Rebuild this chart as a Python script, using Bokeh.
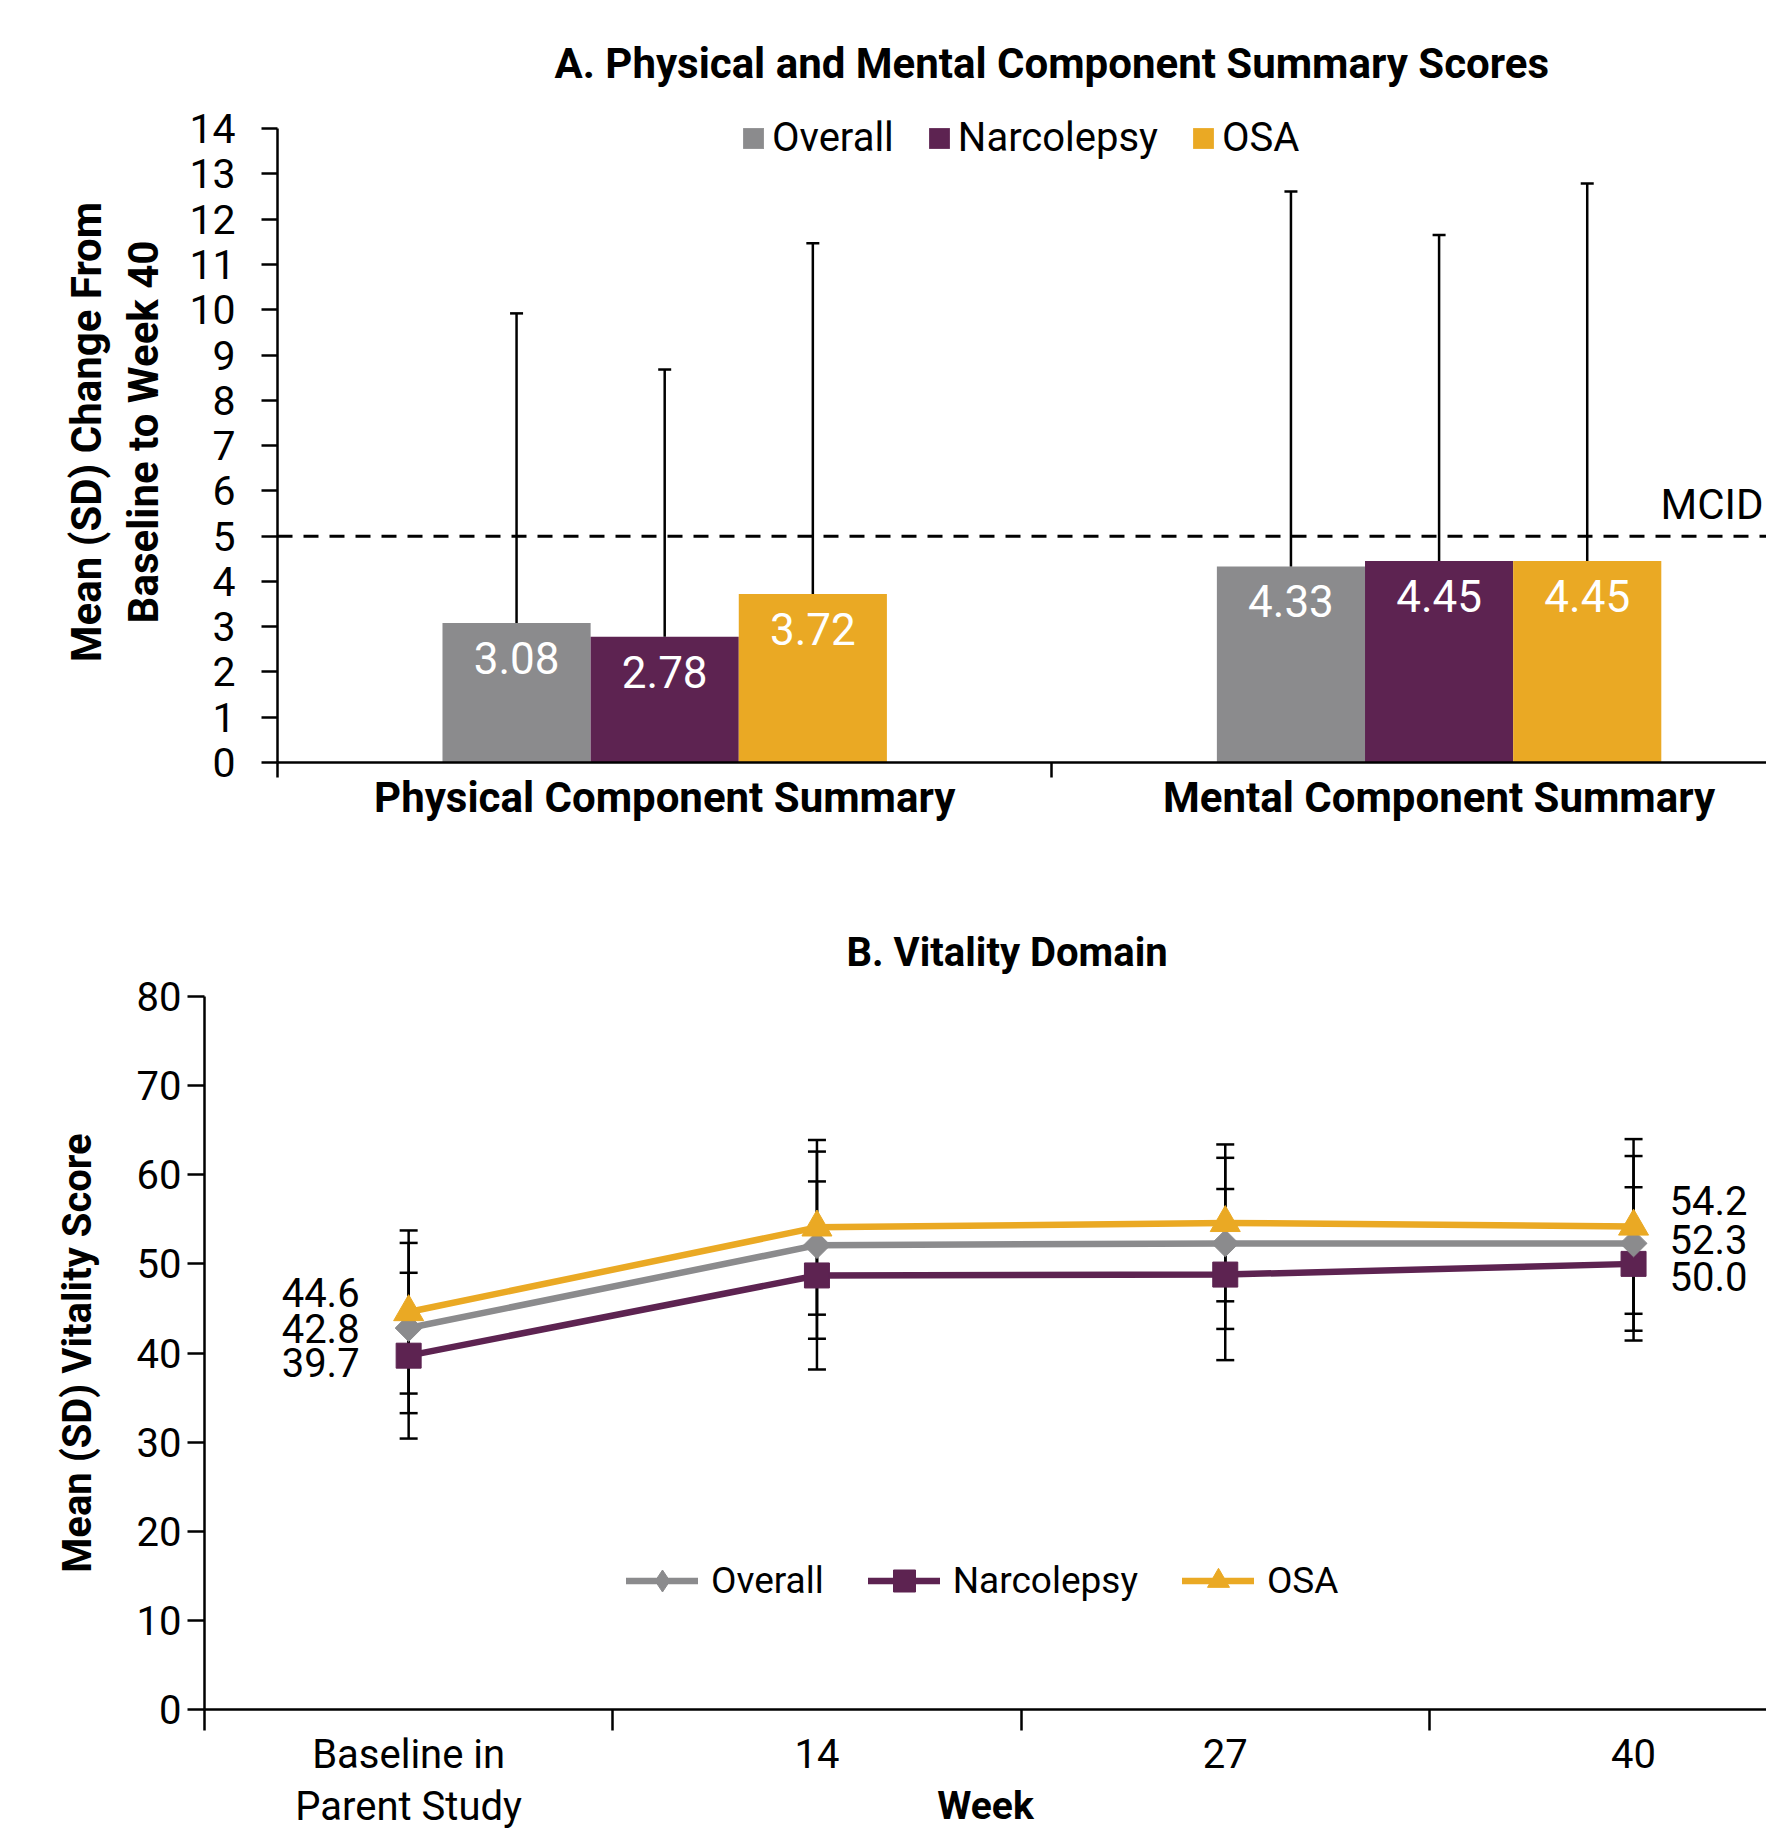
from bokeh.plotting import figure
from bokeh.models import (ColumnDataSource, FixedTicker, Whisker, TeeHead, Label,
                          Legend, LegendItem, Span, Title)
from bokeh.embed import file_html
from bokeh.resources import INLINE
from bokeh.core.properties import value

FONT = "Roboto"

# ---------------- Panel A data ----------------
a_title = "A. Physical and Mental Component Summary Scores"
a_categories = ["Physical Component Summary", "Mental Component Summary"]
a_groups = ["Overall", "Narcolepsy", "OSA"]
a_overall_mean = [3.08, 4.33]
a_overall_sd = [6.84, 8.28]
a_narco_mean = [2.78, 4.45]
a_narco_sd = [5.90, 7.20]
a_osa_mean = [3.72, 4.45]
a_osa_sd = [7.75, 8.34]
a_mcid = 5
a_y_ticks = list(range(0, 15))

# ---------------- Panel B data ----------------
b_title = "B. Vitality Domain"
b_weeks = ["Baseline in\nParent Study", "14", "27", "40"]
b_overall_mean = [42.8, 52.1, 52.3, 52.3]
b_overall_sd = [9.55, 10.5, 9.6, 9.8]
b_narco_mean = [39.7, 48.7, 48.8, 50.0]
b_narco_sd = [9.3, 10.55, 9.6, 8.6]
b_osa_mean = [44.6, 54.1, 54.6, 54.2]
b_osa_sd = [9.15, 9.8, 8.8, 9.8]
b_y_ticks = list(range(0, 81, 10))

GRAY = "#8B8B8D"
PURPLE = "#5D2351"
GOLD = "#EAA924"
colors = [GRAY, PURPLE, GOLD]

W = 1766

# =============== Panel A =================
pA = figure(width=W, height=880, x_range=(0, 1.9228), y_range=(0, 14.6),
            output_backend="svg", toolbar_location=None,
            min_border_left=277, min_border_right=0, min_border_top=101, min_border_bottom=118)
pA.grid.visible = False
pA.outline_line_color = None
pA.add_layout(Title(text=a_title, align="left", offset=277, standoff=28,
                    text_font=FONT, text_font_style="bold", text_font_size="42px",
                    text_color="black"), "above")

bar_w = 0.1913
means_a = [a_overall_mean, a_narco_mean, a_osa_mean]
sds_a = [a_overall_sd, a_narco_sd, a_osa_sd]
legend_items_a = []
for gi, (g, m, s, c) in enumerate(zip(a_groups, means_a, sds_a, colors)):
    xs = [ci + 0.5 + (gi - 1) * bar_w for ci in range(len(a_categories))]
    src = ColumnDataSource(dict(x=xs, top=m, upper=[mm + ss for mm, ss in zip(m, s)],
                                label=[f"{mm:.2f}" for mm in m]))
    r = pA.vbar(x="x", top="top", bottom=0, width=bar_w, source=src,
                fill_color=c, line_color=None)
    legend_items_a.append(LegendItem(label=g, renderers=[r]))
    pA.add_layout(Whisker(source=src, base="x", lower="top", upper="upper",
                          lower_head=None,
                          upper_head=TeeHead(size=13, line_width=2.5, line_color="black"),
                          line_width=2.5, line_color="black", level="glyph"))
    pA.text(x="x", y="top", text="label", source=src, text_align="center",
            text_baseline="alphabetic", y_offset=35, text_color="white",
            text_font=value(FONT), text_font_size="44px")

pA.add_layout(Span(location=a_mcid, dimension="width", line_color="black",
                   line_width=3, line_dash="15 11"))
pA.add_layout(Label(x=1486, x_units="screen", y=a_mcid, y_units="data", y_offset=32,
                    text="MCID", text_align="right", text_baseline="alphabetic",
                    text_font=FONT, text_font_size="42px", text_color="black"))

legA = Legend(items=legend_items_a, orientation="horizontal", location=(463, 601),
              glyph_width=26, glyph_height=26, label_standoff=6, spacing=32,
              padding=0, margin=0, border_line_alpha=0, background_fill_alpha=0,
              label_text_font=FONT, label_text_font_size="40px", label_text_color="black")
pA.add_layout(legA)

yA = pA.yaxis[0]
yA.ticker = FixedTicker(ticks=a_y_ticks)
yA.bounds = (0, 14)
yA.major_tick_out = 16
yA.major_tick_in = 0
yA.minor_tick_out = 0
yA.axis_line_width = 2.5
yA.major_tick_line_width = 2.5
yA.major_label_standoff = 26
yA.major_label_text_font = FONT
yA.major_label_text_font_size = "41px"
yA.major_label_text_color = "black"
yA.axis_label = "Mean (SD) Change From\nBaseline to Week 40"
yA.axis_label_text_font = FONT
yA.axis_label_text_font_style = "bold"
yA.axis_label_text_font_size = "42px"
yA.axis_label_text_line_height = 1.17
yA.axis_label_standoff = 18
yA.axis_label_text_color = "black"

xA = pA.xaxis[0]
xA.ticker = FixedTicker(ticks=[i + 0.5 for i in range(len(a_categories))],
                        minor_ticks=list(range(len(a_categories) + 1)))
xA.major_label_overrides = {i + 0.5: c for i, c in enumerate(a_categories)}
xA.major_tick_out = 0
xA.major_tick_in = 0
xA.minor_tick_out = 15
xA.minor_tick_in = 0
xA.minor_tick_line_width = 2.5
xA.axis_line_width = 2.5
xA.major_label_standoff = -5
xA.major_label_text_font = FONT
xA.major_label_text_font_style = "bold"
xA.major_label_text_font_size = "42px"
xA.major_label_text_color = "black"

# =============== Panel B =================
pB = figure(width=W, height=951, x_range=(0, 3.8256), y_range=(0, 80),
            output_backend="svg", toolbar_location=None,
            min_border_left=204, min_border_right=0, min_border_top=116, min_border_bottom=117)
pB.grid.visible = False
pB.outline_line_color = None
pB.add_layout(Title(text=b_title, align="left", offset=642, standoff=42,
                    text_font=FONT, text_font_style="bold", text_font_size="40px",
                    text_color="black"), "above")

xs_b = [i + 0.5 for i in range(len(b_weeks))]
series_b = [("Narcolepsy", b_narco_mean, b_narco_sd, PURPLE, "square", 25, 0.0),
            ("Overall", b_overall_mean, b_overall_sd, GRAY, "square", 19, 0.7854),
            ("OSA", b_osa_mean, b_osa_sd, GOLD, "triangle", 30, 0.0)]
label_offsets = {"OSA": (-20, -26), "Overall": (0, -4), "Narcolepsy": (7, 13)}
leg_b = {}
for name, m, s, c, mk, sz, ang in series_b:
    src = ColumnDataSource(dict(x=xs_b, lo=[a - b for a, b in zip(m, s)],
                                hi=[a + b for a, b in zip(m, s)]))
    pB.add_layout(Whisker(source=src, base="x", lower="lo", upper="hi",
                          lower_head=TeeHead(size=18, line_width=2.5, line_color="black"),
                          upper_head=TeeHead(size=18, line_width=2.5, line_color="black"),
                          line_width=2.5, line_color="black", level="underlay"))
for name, m, s, c, mk, sz, ang in series_b:
    src = ColumnDataSource(dict(x=xs_b, y=m))
    rl = pB.line(x="x", y="y", source=src, line_color=c, line_width=6.5,
                 line_cap="round", line_join="round")
    rs = pB.scatter(x="x", y="y", source=src, marker=mk, size=sz, angle=ang,
                    fill_color=c, line_color=c, line_join="round", line_width=1)
    if name == "Overall":
        # legend swatch (diamond) for the rotated-square markers
        rproxy = pB.scatter(x="x", y="y", source=src, marker="diamond", size=30,
                            fill_color=c, line_color=c, visible=False)
        leg_b[name] = [rl, rproxy]
    else:
        leg_b[name] = [rl, rs]
    off_first, off_last = label_offsets[name]
    first = ColumnDataSource(dict(x=xs_b[:1], y=m[:1], label=[f"{m[0]:.1f}"]))
    last = ColumnDataSource(dict(x=xs_b[-1:], y=m[-1:], label=[f"{m[-1]:.1f}"]))
    pB.text(x="x", y="y", text="label", source=first, text_align="right",
            text_baseline="alphabetic", x_offset=-49, y_offset=off_first,
            text_font=value(FONT), text_font_size="40px", text_color="black")
    pB.text(x="x", y="y", text="label", source=last, text_align="left",
            text_baseline="alphabetic", x_offset=36, y_offset=off_last,
            text_font=value(FONT), text_font_size="40px", text_color="black")

legB = Legend(items=[LegendItem(label=n, renderers=leg_b[n]) for n in ["Overall", "Narcolepsy", "OSA"]],
              orientation="horizontal", location=(422, 101),
              glyph_width=72, glyph_height=55, label_standoff=13, spacing=44,
              padding=0, margin=0, border_line_alpha=0, background_fill_alpha=0,
              label_text_font=FONT, label_text_font_size="37px", label_text_color="black")
pB.add_layout(legB)

yB = pB.yaxis[0]
yB.ticker = FixedTicker(ticks=b_y_ticks)
yB.major_tick_out = 17
yB.major_tick_in = 0
yB.minor_tick_out = 0
yB.axis_line_width = 2.5
yB.major_tick_line_width = 2.5
yB.major_label_standoff = 6
yB.major_label_text_font = FONT
yB.major_label_text_font_size = "40px"
yB.major_label_text_color = "black"
yB.axis_label = "Mean (SD) Vitality Score"
yB.axis_label_text_font = FONT
yB.axis_label_text_font_style = "bold"
yB.axis_label_text_font_size = "40px"
yB.axis_label_standoff = 33
yB.axis_label_text_color = "black"

xB = pB.xaxis[0]
xB.ticker = FixedTicker(ticks=xs_b, minor_ticks=list(range(len(b_weeks) + 1)))
xB.major_label_overrides = {x: w for x, w in zip(xs_b, b_weeks)}
xB.major_tick_out = 0
xB.major_tick_in = 0
xB.minor_tick_out = 21
xB.minor_tick_in = 0
xB.minor_tick_line_width = 2.5
xB.axis_line_width = 2.5
xB.major_label_standoff = 0
xB.major_label_text_font = FONT
xB.major_label_text_font_size = "40px"
xB.major_label_text_line_height = 1.11
xB.major_label_text_color = "black"
xB.axis_label = "Week"
xB.axis_label_text_font = FONT
xB.axis_label_text_font_style = "bold"
xB.axis_label_text_font_size = "39px"
xB.axis_label_standoff = -50
xB.axis_label_text_color = "black"

open("out.html", "w").write(file_html([pA, pB], INLINE))
